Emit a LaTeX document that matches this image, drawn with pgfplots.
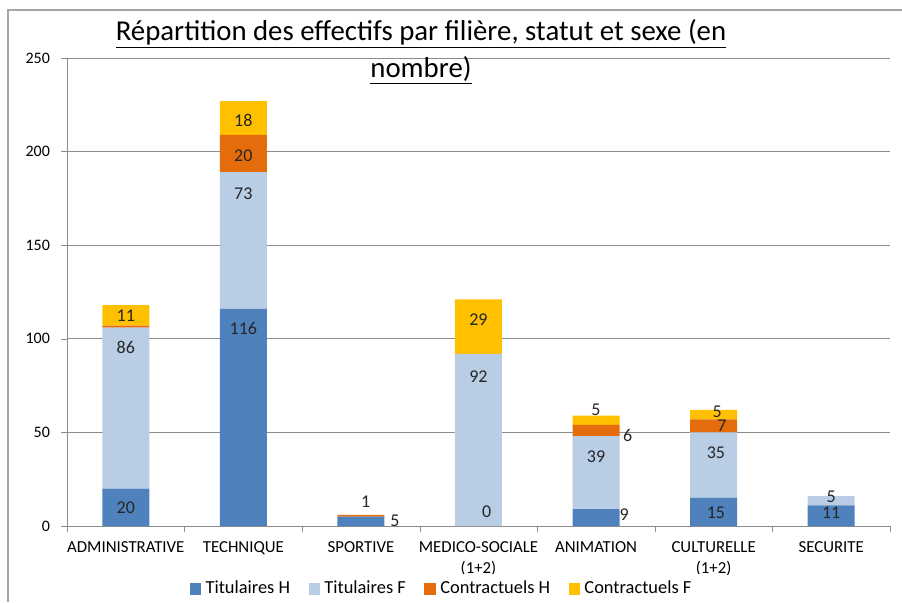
\documentclass[border=0pt]{standalone}
\usepackage{fontspec}
\setmainfont{Carlito}
\usepackage{pgfplots}
\pgfplotsset{compat=1.18}
\usepackage{pgfplotstable}
\definecolor{cTH}{HTML}{4F81BD}
\definecolor{cTF}{HTML}{B9CDE5}
\definecolor{cCH}{HTML}{E46C0A}
\definecolor{cCF}{HTML}{FFC000}
\definecolor{gridgray}{HTML}{8C8C8C}
\definecolor{framegray}{HTML}{A6A6A6}

\pgfplotstableread{
x TH TF CH CF
0 20 86 1 11
1 116 73 20 18
2 5 0 1 0
3 0 92 0 29
4 9 39 6 5
5 15 35 7 5
6 11 5 0 0
}\data

\pgfplotstableread{
x y label
0 10 20
0 95.5 86
0 112.5 11
1 105.5 116
1 177.5 73
1 198 20
1 216.5 18
2.29 2.7 5
2.04 12.8 1
3.07 7.5 0
3 80 92
3 110 29
4 62 5
4.27 48.6 6
4 36.9 39
4.24 5.8 9
5.03 61 5
5.07 53.4 7
5.02 39 35
5.02 7 15
6 15.5 5
6 7 11
}\labels

\begin{document}
\begin{tikzpicture}
\useasboundingbox (-33.5pt,-38pt) rectangle (417.5pt,263pt);
\draw[framegray, line width=0.6pt] (-29.5pt,-38pt) -- (-29.5pt,258pt) -- (417.5pt,258pt);
\begin{axis}[
  at={(0pt,0pt)}, anchor=south west,
  scale only axis, width=411.5pt, height=234pt,
  xmin=-0.5, xmax=6.5, ymin=0, ymax=250,
  ybar stacked, bar width=23.5pt,
  axis x line*=bottom, axis y line*=left,
  axis line style={-, draw=gridgray},
  tick style={draw=gridgray},
  tick align=outside, major tick length=3pt,
  xtick={-0.5,0.5,...,6.5},
  x tick label as interval,
  xticklabels={ADMINISTRATIVE,TECHNIQUE,SPORTIVE,{MEDICO-SOCIALE\\(1+2)},ANIMATION,{CULTURELLE\\(1+2)},SECURITE},
  xticklabel style={align=center, font=\fontsize{8.4}{10.5}\selectfont, yshift=-1.5pt},
  ytick={0,50,...,250},
  yticklabel style={font=\fontsize{8}{9.6}\selectfont, xshift=-2pt},
  /pgf/number format/assume math mode=true,
  ymajorgrids, major grid style={draw=gridgray, line width=0.5pt},
  legend style={at={(0.4555,-0.1345)}, anchor=center, draw=none,
    font=\fontsize{9.2}{11}\selectfont, legend columns=4,
    /tikz/every even column/.append style={column sep=8pt},
    nodes={inner sep=1.3pt}},
  legend cell align=left,
  legend image code/.code={\fill[#1] (0pt,-2.8pt) rectangle (5.6pt,2.8pt); \path (6.6pt,0pt);},
]
\addplot[fill=cTH, draw=none] table[x=x, y=TH]{\data};
\addplot[fill=cTF, draw=none] table[x=x, y=TF]{\data};
\addplot[fill=cCH, draw=none] table[x=x, y=CH]{\data};
\addplot[fill=cCF, draw=none] table[x=x, y=CF]{\data};
\legend{Titulaires H, Titulaires F, Contractuels H, Contractuels F}
\end{axis}
\begin{axis}[
  at={(0pt,0pt)}, anchor=south west,
  scale only axis, width=411.5pt, height=234pt,
  xmin=-0.5, xmax=6.5, ymin=0, ymax=250,
  hide axis,
]
\addplot[only marks, mark=none, nodes near coords, point meta=explicit symbolic,
  nodes near coords align=center,
  every node near coord/.append style={font=\fontsize{9}{10.5}\selectfont, text=black!85, inner sep=0pt}]
  table[x=x, y=y, meta=label]{\labels};
\end{axis}
\node[align=center, font=\fontsize{14.4}{18.5}\selectfont, text=black] at (177pt,237pt)
  {\underline{Répartition des effectifs par filière, statut et sexe (en}\\\underline{nombre)}};
\end{tikzpicture}
\end{document}
